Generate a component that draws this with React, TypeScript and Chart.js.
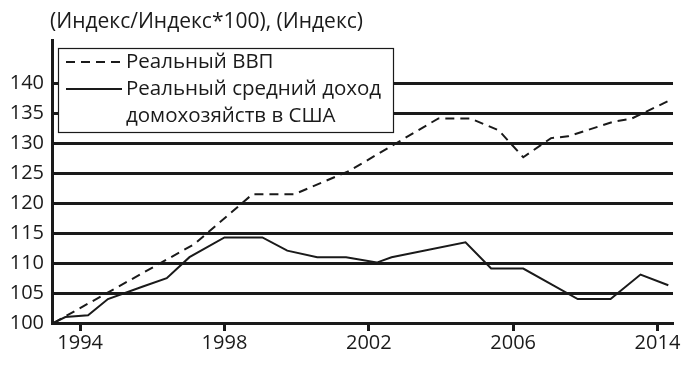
import React, { useEffect, useRef } from 'react';
import { Chart, registerables } from 'chart.js';

Chart.register(...registerables);

const titleText = '(Индекс/Индекс*100), (Индекс)';
const gdpLabel = 'Реальный ВВП';
const incomeLabelLines = ['Реальный средний доход', 'домохозяйств в США'];

const gdpYears = [1993.26, 1997.17, 1998.77, 1999.93, 2001.45, 2003.93, 2004.81, 2005.6, 2006.28, 2007.05, 2007.52, 2008.81, 2009.26, 2010.3];
const gdpValues = [100, 113.2, 121.5, 121.5, 125.4, 134.2, 134.2, 132.2, 127.7, 130.9, 131.2, 133.7, 134.1, 137.1];

const incomeYears = [1993.26, 1993.59, 1994.22, 1994.77, 1995.74, 1996.4, 1997.03, 1998.0, 1999.05, 1999.74, 2000.57, 2001.37, 2002.22, 2002.63, 2004.68, 2005.39, 2006.28, 2007.79, 2008.7, 2009.53, 2010.3];
const incomeValues = [100, 101, 101.3, 104, 106.1, 107.5, 111, 114.3, 114.3, 112.1, 111, 111, 110.1, 111, 113.5, 109.1, 109.1, 104, 104, 108.1, 106.3];

const xTickPositions = [1994, 1998, 2002, 2006, 2010];
const xTickLabels = ['1994', '1998', '2002', '2006', '2014'];
const yTickValues = [100, 105, 110, 115, 120, 125, 130, 135, 140];

const FONT = '"Open Sans", sans-serif';
const INK = '#1a1a1a';

const overlayPlugin = {
  id: 'overlay',
  afterDraw(chart: any) {
    const ctx = chart.ctx as CanvasRenderingContext2D;
    ctx.save();
    ctx.fillStyle = INK;
    ctx.textBaseline = 'middle';
    ctx.textAlign = 'left';
    ctx.font = `21px ${FONT}`;
    ctx.fillText(titleText, 50, 22);

    // legend box
    ctx.fillStyle = '#ffffff';
    ctx.fillRect(58, 48, 335, 84);
    ctx.strokeStyle = INK;
    ctx.lineWidth = 1.2;
    ctx.strokeRect(58.5, 48.5, 335, 84);

    ctx.lineWidth = 2;
    ctx.setLineDash([9, 6]);
    ctx.beginPath();
    ctx.moveTo(66, 62);
    ctx.lineTo(122, 62);
    ctx.stroke();
    ctx.setLineDash([]);
    ctx.beginPath();
    ctx.moveTo(66, 89);
    ctx.lineTo(122, 89);
    ctx.stroke();

    ctx.fillStyle = INK;
    ctx.font = `20.5px ${FONT}`;
    ctx.fillText(gdpLabel, 126, 62);
    ctx.fillText(incomeLabelLines[0], 126, 89);
    ctx.fillText(incomeLabelLines[1], 126, 116);
    ctx.restore();
  },
};

export default function App() {
  const ref = useRef<HTMLCanvasElement>(null);

  useEffect(() => {
    if (!ref.current) return;
    const chart = new Chart(ref.current, {
      type: 'line',
      data: {
        datasets: [
          {
            label: gdpLabel,
            data: gdpYears.map((x, i) => ({ x, y: gdpValues[i] })),
            borderColor: INK,
            borderWidth: 2,
            borderDash: [9, 6],
            pointRadius: 0,
            tension: 0,
            fill: false,
          },
          {
            label: incomeLabelLines.join(' '),
            data: incomeYears.map((x, i) => ({ x, y: incomeValues[i] })),
            borderColor: INK,
            borderWidth: 2,
            pointRadius: 0,
            tension: 0,
            fill: false,
          },
        ],
      },
      options: {
        responsive: false,
        animation: false,
        devicePixelRatio: 1,
        layout: { padding: { top: 40, right: 17, left: 0, bottom: 0 } },
        plugins: {
          legend: { display: false },
          tooltip: { enabled: false },
        },
        scales: {
          x: {
            type: 'linear',
            min: 1993.22,
            max: 2010.43,
            afterBuildTicks: (s: any) => {
              s.ticks = xTickPositions.map((v) => ({ value: v }));
            },
            afterFit: (s: any) => {
              s.height = 48;
            },
            ticks: {
              callback: (_v: any, i: number) => xTickLabels[i],
              font: { family: FONT, size: 20 },
              color: INK,
              padding: 0,
              maxRotation: 0,
              autoSkip: false,
            },
            grid: {
              drawOnChartArea: false,
              drawTicks: true,
              tickLength: 8,
              tickWidth: 3,
              tickColor: INK,
            },
            border: { display: true, width: 3, color: INK },
          },
          y: {
            type: 'linear',
            min: 100,
            max: 147.3,
            afterBuildTicks: (s: any) => {
              s.ticks = yTickValues.map((v) => ({ value: v }));
            },
            afterFit: (s: any) => {
              s.width = 52;
            },
            ticks: {
              font: { family: FONT, size: 20 },
              color: INK,
              padding: 8,
            },
            grid: {
              color: INK,
              lineWidth: 3,
              drawTicks: false,
            },
            border: { display: true, width: 3, color: INK },
          },
        },
      },
      plugins: [overlayPlugin],
    } as any);
    return () => chart.destroy();
  }, []);

  return (
    <div style={{ position: 'fixed', left: 0, top: 0, width: 690, height: 371, background: '#fff' }}>
      <canvas ref={ref} width={690} height={371} style={{ width: 690, height: 371, display: 'block' }} />
    </div>
  );
}
